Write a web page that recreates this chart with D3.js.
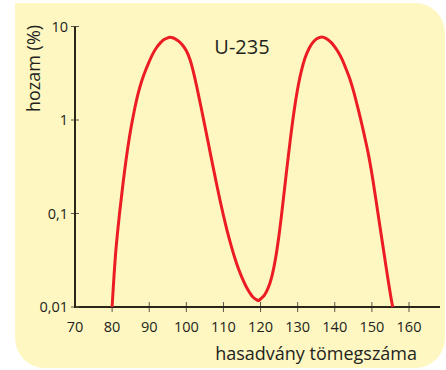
<!DOCTYPE html>
<html>
<head>
<meta charset="utf-8">
<script src="https://cdn.jsdelivr.net/npm/d3@7"></script>
<style>
  html, body { margin: 0; padding: 0; background: #ffffff; }
  svg { display: block; }
  text { font-family: "Open Sans", "Noto Sans", sans-serif; fill: #231f20; }
</style>
</head>
<body>
<svg id="chart" width="446" height="370"></svg>
<script>
// Fission product yield of U-235 (%) versus mass number
const massNumbers = [80, 81, 82, 83, 84, 85, 86, 87, 88, 89, 90, 91, 92, 93, 94, 95, 95.5,
  96, 97, 98, 99, 100, 101, 102, 103, 104, 105, 106, 107, 108, 109, 110, 111, 112, 113,
  114, 115, 116, 117, 118, 119, 119.5, 120, 121, 122, 123, 124, 125, 126, 127, 128, 129,
  130, 131, 132, 133, 134, 135, 136, 136.5, 137, 138, 139, 140, 141, 142, 143, 144, 145,
  146, 147, 148, 149, 150, 151, 152, 153, 154, 155, 155.6];
const yieldPercent = [0.0100, 0.0398, 0.100, 0.219, 0.437, 0.785, 1.27, 1.91, 2.63, 3.39,
  4.22, 5.13, 5.96, 6.68, 7.24, 7.57, 7.66,
  7.62, 7.38, 6.92, 6.31, 5.50, 4.42, 3.16, 2.09, 1.35, 0.861, 0.546, 0.346, 0.221, 0.143,
  0.0951, 0.0653, 0.0465, 0.0340, 0.0259, 0.0206, 0.0169, 0.0144, 0.0127, 0.0119, 0.0117,
  0.0122, 0.0133, 0.0158, 0.0209, 0.0324, 0.0596, 0.127, 0.282, 0.610, 1.22,
  2.16, 3.35, 4.62, 5.75, 6.68, 7.33, 7.66, 7.71, 7.66, 7.31, 6.76, 6.07, 5.27, 4.42, 3.55,
  2.79, 2.07, 1.46, 1.01, 0.676, 0.442, 0.266, 0.148, 0.0807, 0.0441, 0.0242, 0.0136, 0.0100];

const xTickValues = [70, 80, 90, 100, 110, 120, 130, 140, 150, 160];
const yTickValues = [0.01, 0.1, 1, 10];
const yTickLabels = ["0,01", "0,1", "1", "10"];

const seriesLabel = "U-235";
const xTitle = "hasadvány tömegszáma";
const yTitle = "hozam (%)";

const svg = d3.select("#chart");

// Background panel: square top-left corner, rounded elsewhere
const px0 = 15, py0 = 3, px1 = 445, py1 = 368, r = 30;
const panel = d3.path();
panel.moveTo(px0, py0);
panel.lineTo(px1 - r, py0);
panel.arcTo(px1, py0, px1, py0 + r, r);
panel.lineTo(px1, py1 - r);
panel.arcTo(px1, py1, px1 - r, py1, r);
panel.lineTo(px0 + r, py1);
panel.arcTo(px0, py1, px0, py1 - r, r);
panel.closePath();
svg.append("path").attr("d", panel.toString()).attr("fill", "#fef7c1");

// Scales
const x = d3.scaleLinear().domain([70, 160]).range([75, 409]);
const y = d3.scaleLog().domain([0.01, 10]).range([307, 26.5]);
const axisColor = "#2a2718";

// X axis
const xAxisEnd = 440;
const gx = svg.append("g");
gx.selectAll("line.tick").data(xTickValues.slice(1)).join("line")
  .attr("x1", d => x(d)).attr("x2", d => x(d))
  .attr("y1", y(0.01) - 5).attr("y2", y(0.01) + 5)
  .attr("stroke", "#5a5848").attr("stroke-width", 1);
gx.append("line")
  .attr("x1", x(70)).attr("x2", xAxisEnd)
  .attr("y1", y(0.01)).attr("y2", y(0.01))
  .attr("stroke", axisColor).attr("stroke-width", 2);
gx.selectAll("text").data(xTickValues).join("text")
  .attr("x", d => x(d)).attr("y", 332)
  .attr("text-anchor", "middle")
  .attr("font-size", 14.5)
  .text(d => d);

// Y axis
const gy = svg.append("g");
gy.selectAll("line.tick").data(yTickValues).join("line")
  .attr("x1", x(70) - 4).attr("x2", x(70) + 4)
  .attr("y1", d => y(d)).attr("y2", d => y(d))
  .attr("stroke", "#5a5848").attr("stroke-width", 1);
gy.append("line")
  .attr("x1", x(70)).attr("x2", x(70))
  .attr("y1", y(10)).attr("y2", y(0.01) + 1)
  .attr("stroke", axisColor).attr("stroke-width", 2);
gy.selectAll("text").data(yTickValues).join("text")
  .attr("x", 68).attr("y", d => y(d))
  .attr("dy", "0.36em")
  .attr("text-anchor", "end")
  .attr("font-size", 14.5)
  .text((d, i) => yTickLabels[i]);

// Axis titles
svg.append("text")
  .attr("x", 417).attr("y", 360)
  .attr("text-anchor", "end")
  .attr("font-size", 18)
  .text(xTitle);
svg.append("text")
  .attr("transform", "translate(39.5,68.5) rotate(-90)")
  .attr("text-anchor", "middle")
  .attr("font-size", 18)
  .text(yTitle);

// Yield curve
const pts = massNumbers.map((m, i) => [m, yieldPercent[i]]);
const line = d3.line()
  .x(d => x(d[0]))
  .y(d => y(d[1]))
  .curve(d3.curveCatmullRom.alpha(0.5));
svg.append("path")
  .datum(pts)
  .attr("d", line)
  .attr("fill", "none")
  .attr("stroke", "#ec1c24")
  .attr("stroke-width", 3)
  .attr("stroke-linejoin", "round");

// Series label
svg.append("text")
  .attr("x", 242).attr("y", 53.5)
  .attr("text-anchor", "middle")
  .attr("font-size", 20)
  .text(seriesLabel);
</script>
</body>
</html>
